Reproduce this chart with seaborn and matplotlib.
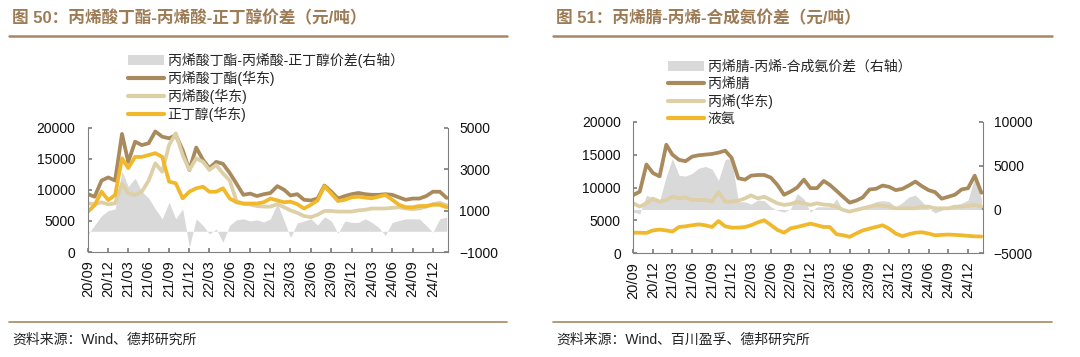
import matplotlib
matplotlib.use("Agg")
import matplotlib.pyplot as plt
import matplotlib.dates as mdates
from matplotlib.lines import Line2D
from matplotlib.patches import Patch
import pandas as pd
import seaborn as sns

# monthly points, 2020-09 .. 2025-02
months = pd.date_range("2020-09-01", periods=54, freq="MS")
quarter_ticks = pd.date_range("2020-09-01", "2024-12-01", freq="3MS")

# 图50: 丙烯酸丁酯 / 丙烯酸 / 正丁醇 (元/吨), spread on right axis
ba_price = [9300, 8900, 11500, 12000, 11500, 19000, 14500, 17750, 17200, 17500,
            19400, 18550, 18300, 18800, 16400, 13200, 16800, 14800, 13500, 14500,
            14200, 12700, 11000, 9200, 9400, 9000, 9300, 9500, 10600, 10000,
            9100, 9300, 8400, 8300, 8600, 10700, 9700, 8600, 9000, 9300,
            9500, 9300, 9200, 9200, 9300, 9200, 8800, 8400, 8600, 8600,
            9000, 9700, 9700, 8700]
aa_price = [7830, 7670, 8000, 7670, 7830, 11000, 9440, 9170, 9700, 11500,
            14270, 12920, 17220, 19090, 15600, 13200, 15060, 14500, 13200, 14000,
            12650, 11500, 8200, 7750, 7650, 7400, 7300, 7300, 7700, 7200,
            6700, 6300, 5800, 5600, 6000, 6600, 6600, 6500, 6500, 6500,
            6700, 6800, 7000, 7000, 7000, 7100, 7200, 7000, 6900, 7000,
            7300, 7700, 7900, 7500]
nba_price = [6480, 7560, 9700, 8370, 9170, 15070, 13500, 15300, 15300, 15600,
             15900, 15300, 11320, 11050, 8640, 9700, 10250, 10500, 9700, 9700,
             10250, 8600, 8000, 7800, 7800, 7800, 8000, 8600, 8300, 8000,
             8100, 7700, 7000, 7600, 8300, 10600, 9400, 8200, 8400, 8800,
             8900, 8750, 8640, 8900, 9200, 8400, 7600, 7200, 7200, 7400,
             7400, 7600, 7600, 7200]
ba_spread = [-150, 300, 750, 1000, 1080, 2900, 2160, 2560, 1920, 1600,
             1080, 600, 1400, 600, 1080, -770, 600, 280, -130, 110,
             -530, 300, 550, 600, 500, 550, 450, 600, 1350, 500,
             -300, 400, 500, 600, 300, 700, 500, -100, 500, 430,
             430, 600, 430, 190, -200, 430, 520, 600, 600, 600,
             280, -50, 600, 680]

# 图51: 丙烯腈 / 丙烯 / 液氨 (元/吨), spread on right axis
an_price = [8860, 9370, 13500, 12200, 11700, 16500, 15000, 14200, 14000, 14700,
            14900, 15000, 15100, 15300, 15600, 14500, 11400, 11200, 11800, 11900,
            11900, 11500, 10400, 8900, 9400, 10000, 11200, 9900, 9900, 11000,
            10400, 9500, 8600, 7700, 8000, 8500, 9700, 9800, 10300, 10100,
            9600, 9800, 10300, 10900, 10200, 9600, 9300, 8300, 8600, 8900,
            9700, 9900, 11800, 9200]
pp_price = [7600, 7090, 7600, 8300, 7850, 8100, 8600, 8350, 8500, 8100,
            8100, 8100, 7900, 9300, 7850, 7850, 8000, 8350, 8800, 8350,
            8600, 8100, 7600, 7350, 7500, 7850, 7600, 7350, 7600, 7400,
            7350, 7090, 6600, 6330, 6590, 6840, 7090, 7350, 7200, 7090,
            6840, 6840, 6840, 6840, 7090, 7090, 6840, 6840, 6840, 7090,
            7090, 7200, 7350, 7090]
nh3_price = [3130, 3130, 3100, 3480, 3600, 3480, 3300, 4000, 4100, 4260,
             4400, 4260, 4000, 4900, 4100, 3900, 3900, 4000, 4260, 4700,
             5020, 4300, 3560, 3130, 3800, 4000, 4260, 4510, 4260, 4000,
             4000, 2900, 2750, 2500, 3000, 3480, 3750, 4000, 4260, 3750,
             3000, 2600, 2900, 3130, 3200, 3000, 2740, 2800, 2850, 2800,
             2740, 2650, 2580, 2550]
an_spread = [-300, -500, 1640, 1300, 1000, 3800, 5800, 3900, 3800, 4100,
             4700, 4900, 4600, 3300, 5700, 5800, 870, 870, 600, 1070,
             1000, 300, -100, -300, 100, 1800, 1200, -300, 300, 300,
             300, 1200, -50, 0, 0, 100, 300, 900, 1000, 900,
             300, 800, 1400, 1640, 900, 100, -400, -100, 200, 500,
             700, 1070, 3700, 1200]

BROWN = "#A88A5C"
BEIGE = "#DDCFA6"
GOLD = "#F0B82A"
GREY = "#D9D9D9"
TITLE_C = "#9C7B55"
RULE_C = "#A88763"
AXIS_C = "#808080"

sns.set_theme(style="white")
plt.rcParams["font.family"] = ["Liberation Sans", "Noto Sans CJK SC"]

W, H = 1080, 357
fig = plt.figure(figsize=(W / 100, H / 100), dpi=100)


def fx(px):
    return px / W


def fy(py):
    return 1 - py / H


def panel(left, right, top, bottom, series, spread, ylim, yticks, y2lim, y2ticks):
    ax = fig.add_axes([fx(left), fy(bottom), fx(right - left), fy(top) - fy(bottom)])
    ax2 = ax.twinx()
    ax2.fill_between(months, 0, spread, color=GREY, lw=0)
    for vals, col in series:
        sns.lineplot(x=months, y=vals, ax=ax, color=col, lw=2.7)
    ax.set_zorder(ax2.get_zorder() + 1)
    ax.patch.set_visible(False)

    ax.set_xlim(months[0], months[-1] + pd.Timedelta(days=6))
    ax.set_ylim(*ylim)
    ax.set_yticks(yticks)
    ax2.set_ylim(*y2lim)
    ax2.set_yticks(y2ticks)
    ax.set_xticks(quarter_ticks)
    ax.xaxis.set_major_formatter(mdates.DateFormatter("%y/%m"))
    ax.set_xlabel("")
    ax.set_ylabel("")

    for a in (ax, ax2):
        for s in a.spines.values():
            s.set_color(AXIS_C)
            s.set_linewidth(0.8)
        a.spines["top"].set_visible(False)
    ax.spines["right"].set_visible(False)
    ax2.spines["left"].set_visible(False)
    ax2.spines["bottom"].set_visible(False)

    ax.tick_params(axis="x", bottom=True, direction="in", length=3, color=AXIS_C,
                   labelsize=10.5, labelrotation=90, pad=6, labelcolor="#111111")
    ax.tick_params(axis="y", left=True, direction="in", length=3, color=AXIS_C,
                   labelsize=10, pad=9, labelcolor="#111111")
    ax2.tick_params(axis="y", right=True, direction="in", length=3, color=AXIS_C,
                    labelsize=10, pad=8, labelcolor="#111111")
    return ax


def header_footer(x0, x1, title, source):
    fig.text(fx(x0 + 3), fy(18), title, fontsize=12, fontweight="bold",
             color=TITLE_C, va="center", ha="left")
    fig.add_artist(Line2D([fx(x0), fx(x1)], [fy(36), fy(36)], color=RULE_C, lw=1.8))
    fig.add_artist(Line2D([fx(x0), fx(x1)], [fy(322), fy(322)], color=RULE_C, lw=1.2))
    fig.text(fx(x0 + 3), fy(340), source, fontsize=10, color="#222222",
             va="center", ha="left")


def legend(x, y, labels):
    handles = [Patch(facecolor=GREY, edgecolor="none"),
               Line2D([], [], color=BROWN, lw=3),
               Line2D([], [], color=BEIGE, lw=3),
               Line2D([], [], color=GOLD, lw=3)]
    fig.legend(handles, labels, loc="upper left", bbox_to_anchor=(fx(x), fy(y)),
               frameon=False, fontsize=10, handlelength=2.6, handletextpad=0.25,
               labelspacing=0.2, borderpad=0, borderaxespad=0)


# left panel
panel(88, 448, 127.7, 252,
      [(ba_price, BROWN), (aa_price, BEIGE), (nba_price, GOLD)], ba_spread,
      (0, 20000), [0, 5000, 10000, 15000, 20000],
      (-1000, 5000), [-1000, 1000, 3000, 5000])
header_footer(9, 507, "图 50：丙烯酸丁酯-丙烯酸-正丁醇价差（元/吨）",
              "资料来源：Wind、德邦研究所")
legend(128, 53, ["丙烯酸丁酯-丙烯酸-正丁醇价差(右轴）", "丙烯酸丁酯(华东)",
                 "丙烯酸(华东)", "正丁醇(华东)"])

# right panel
panel(633.3, 982.7, 121.7, 253.3,
      [(an_price, BROWN), (pp_price, BEIGE), (nh3_price, GOLD)], an_spread,
      (0, 20000), [0, 5000, 10000, 15000, 20000],
      (-5000, 10000), [-5000, 0, 5000, 10000])
header_footer(553, 1052, "图 51：丙烯腈-丙烯-合成氨价差（元/吨）",
              "资料来源：Wind、百川盈孚、德邦研究所")
legend(668, 60, ["丙烯腈-丙烯-合成氨价差（右轴）", "丙烯腈", "丙烯(华东)", "液氨"])

fig.savefig("out.png", dpi=100)
